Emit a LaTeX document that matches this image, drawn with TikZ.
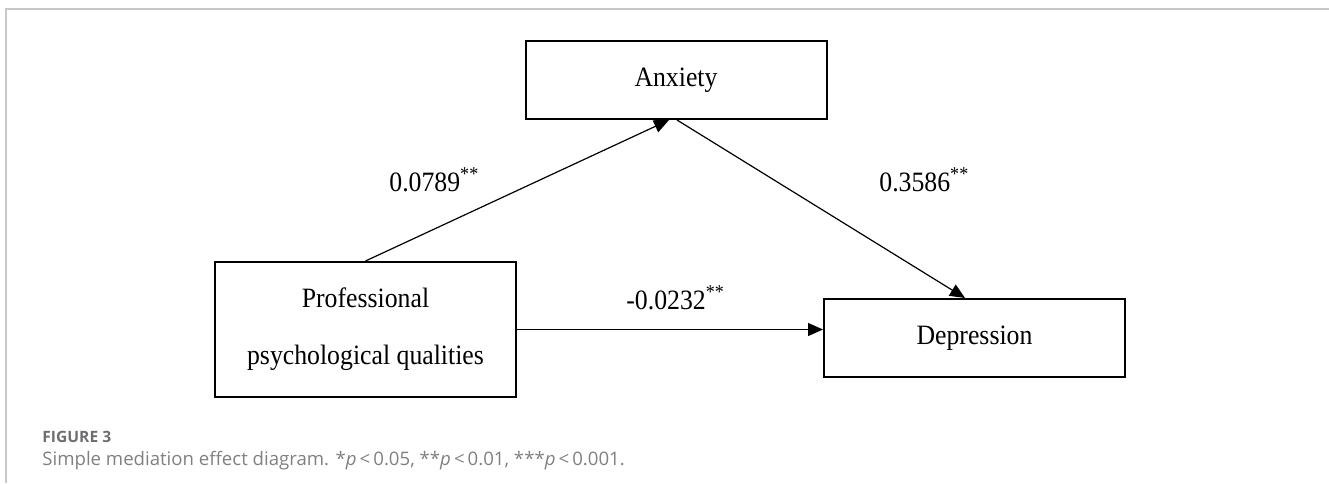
\documentclass[tikz,border=0pt]{standalone}
\usepackage{fontspec}
\setmainfont{Liberation Serif}[FakeStretch=0.92]
\newfontfamily\captionfont{Open Sans}
\usepackage{tikz}
\usetikzlibrary{arrows.meta, positioning}
\definecolor{framegray}{RGB}{200,200,200}
\definecolor{figgray}{RGB}{110,110,112}
\definecolor{capgray}{RGB}{128,128,128}

\begin{document}
\begin{tikzpicture}[
    x=0.5pt, y=-0.5pt,
    varbox/.style={
        rectangle, draw=black, line width=1pt, fill=white,
        minimum width=150.5pt, minimum height=39pt, align=center,
        font=\fontsize{14}{28.5}\selectfont, inner sep=0pt
    },
    coef/.style={anchor=base west, inner sep=0pt, font=\fontsize{14}{16}\selectfont},
    arrow/.style={draw, -{Triangle[length=7.5pt,width=6.5pt]}, line width=0.6pt, black},
    framerule/.style={draw=framegray, line width=0.8pt},
    node distance=89pt
]
\useasboundingbox (0,0) rectangle (1329,483);
\draw [framerule] (1329,9) -- (6,9) -- (6,483);

\node [varbox, minimum height=67.5pt] (prof) at (365.5,329.5) {Professional\\psychological qualities};
\node [varbox, right=153pt of prof, yshift=-4.25pt] (depr) {Depression};
\node [varbox, above=of depr, xshift=-149.25pt] (anx) {Anxiety};

\node [coef] (lbla) at (389,191) {0.0789\textsuperscript{**}};
\node [coef] (lblb) at (879,191) {0.3586\textsuperscript{**}};
\node [coef] (lblc) at (626,309) {-0.0232\textsuperscript{**}};

\draw [arrow] (prof.north) -- ([xshift=-3.5pt]anx.south);
\draw [arrow] ([xshift=0.5pt]anx.south) -- ([xshift=-4.75pt]depr.north);
\draw [arrow] (prof.east) -- (prof.east -| depr.west);

\node [anchor=base west, inner sep=0pt, text=figgray, font=\captionfont\bfseries\fontsize{7.8}{9}\selectfont] (fig) at (42,442) {FIGURE 3};
\node [anchor=base west, inner sep=0pt, text=capgray, font=\captionfont\fontsize{9.3}{11}\selectfont] (cap) at (42,465)
    {Simple mediation effect diagram. *\textit{p}\,<\,0.05, **\textit{p}\,<\,0.01, ***\textit{p}\,<\,0.001.};
\end{tikzpicture}
\end{document}
